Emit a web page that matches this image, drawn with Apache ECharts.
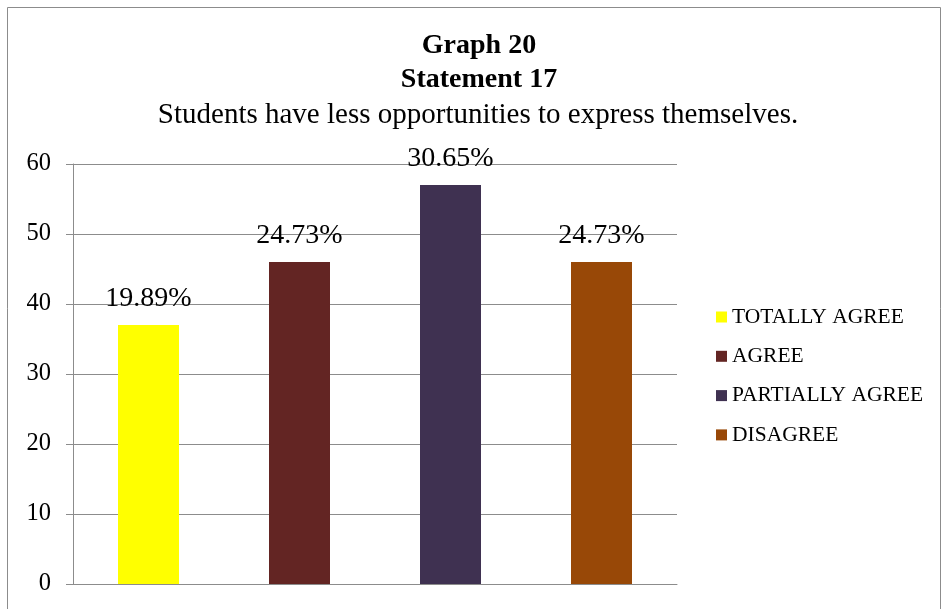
<!DOCTYPE html>
<html>
<head>
<meta charset="utf-8">
<script src="https://cdn.jsdelivr.net/npm/echarts@6/dist/echarts.min.js"></script>
<style>
  html, body { margin: 0; padding: 0; background: #fff; }
  #chart { width: 942px; height: 609px; }
</style>
</head>
<body>
<div id="chart"></div>
<script>
// Responses to statement 17
const categories = ['TOTALLY AGREE', 'AGREE', 'PARTIALLY AGREE', 'DISAGREE'];
const counts = [37, 46, 57, 46];
const percentLabels = ['19.89%', '24.73%', '30.65%', '24.73%'];
const colors = ['#FFFF00', '#632523', '#3F3151', '#984807'];
const yTicks = { min: 0, max: 60, interval: 10 };
const titleLines = ['Graph 20', 'Statement 17'];
const subtitle = 'Students have less opportunities to express themselves.';

const font = '"Liberation Serif", "Times New Roman", serif';

// one series per answer so each gets its own legend entry; stacking keeps them in one slot
const series = categories.map((name, i) => ({
  name: name,
  type: 'bar',
  stack: 'answers',
  barWidth: 61,
  itemStyle: { color: colors[i] },
  data: counts.map((v, j) => (j === i ? v : '-')),
  label: {
    show: true,
    position: 'top',
    distance: 12,
    formatter: () => percentLabels[i],
    color: '#000',
    fontFamily: font,
    fontSize: 28
  }
}));

const headingX = 479;
const chart = echarts.init(document.getElementById('chart'), null, { renderer: 'canvas' });
chart.setOption({
  animation: false,
  backgroundColor: '#fff',
  graphic: [
    {
      type: 'rect',
      shape: { x: 7.5, y: 7.5, width: 933, height: 640 },
      style: { fill: null, stroke: '#8c8c8c', lineWidth: 1 },
      silent: true
    },
    {
      type: 'text', x: headingX, y: 46, silent: true,
      style: { text: titleLines[0], align: 'center', verticalAlign: 'middle',
               font: 'bold 28px ' + font, fill: '#000' }
    },
    {
      type: 'text', x: headingX, y: 80, silent: true,
      style: { text: titleLines[1], align: 'center', verticalAlign: 'middle',
               font: 'bold 28px ' + font, fill: '#000' }
    },
    {
      type: 'text', x: 478, y: 115, silent: true,
      style: { text: subtitle, align: 'center', verticalAlign: 'middle',
               font: '29px ' + font, fill: '#000' }
    }
  ],
  legend: {
    orient: 'vertical',
    left: 711,
    top: 301,
    itemWidth: 11,
    itemHeight: 11,
    itemGap: 17.3,
    itemStyle: { borderWidth: 0 },
    icon: 'rect',
    data: categories,
    textStyle: { fontFamily: font, fontSize: 21.5, color: '#000' }
  },
  grid: { left: 73, right: 265, top: 164, bottom: 25, containLabel: false },
  xAxis: {
    type: 'category',
    data: categories,
    axisLine: { lineStyle: { color: '#8c8c8c', width: 1 } },
    axisTick: { show: false },
    axisLabel: { show: false }
  },
  yAxis: {
    type: 'value',
    min: yTicks.min, max: yTicks.max, interval: yTicks.interval,
    axisLine: { show: true, lineStyle: { color: '#8c8c8c' } },
    axisTick: { show: true, length: 7, lineStyle: { color: '#8c8c8c' } },
    axisLabel: { margin: 22, fontFamily: font, fontSize: 24.5, color: '#000' },
    splitLine: { lineStyle: { color: '#8c8c8c' } }
  },
  series: series
});
</script>
</body>
</html>
